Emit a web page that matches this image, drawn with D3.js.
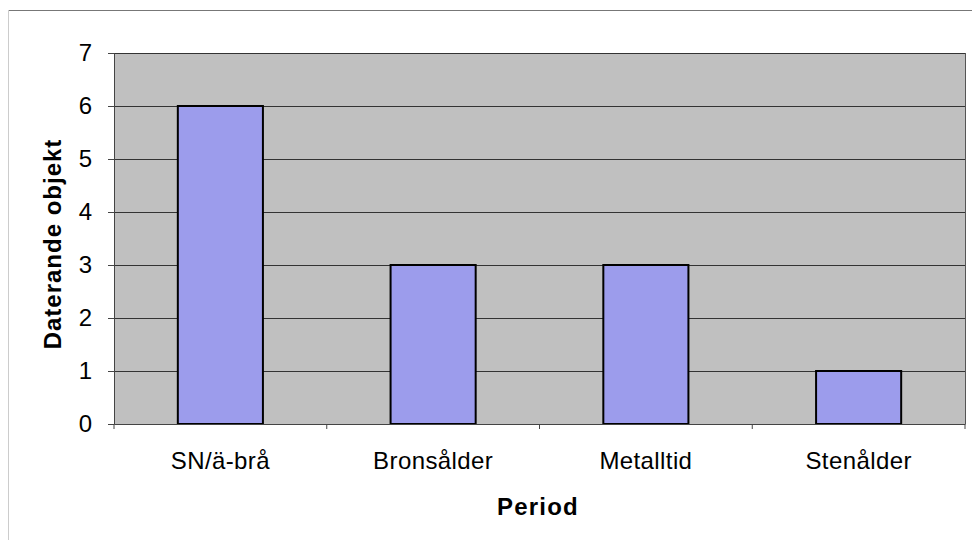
<!DOCTYPE html>
<html><head><meta charset="utf-8">
<script src="https://cdn.jsdelivr.net/npm/d3@7"></script>
<style>body{margin:0;background:#fff}svg{display:block}text{font-family:"Liberation Sans",Arial,sans-serif}</style>
</head><body>
<svg id="c" width="975" height="549"></svg>
<script>
const categories = ["SN/ä-brå", "Bronsålder", "Metalltid", "Stenålder"];
const values = [6, 3, 3, 1];
const yTicks = [0, 1, 2, 3, 4, 5, 6, 7];
const yTitle = "Daterande objekt";
const xTitle = "Period";

const svg = d3.select("#c");
const m = {left: 114, right: 965, top: 53, bottom: 424};

// outer frame (partial, as in scan)
svg.append("line").attr("x1", 8).attr("x2", 972).attr("y1", 10.5).attr("y2", 10.5).attr("stroke", "#777").attr("stroke-width", 1);
svg.append("line").attr("x1", 8.5).attr("x2", 8.5).attr("y1", 10).attr("y2", 540).attr("stroke", "#ccc").attr("stroke-width", 1);

const x = d3.scaleBand().domain(categories).range([m.left, m.right]).paddingInner(0.6).paddingOuter(0.3);
const xb = d3.scaleBand().domain(categories).range([m.left, m.right]);
const y = d3.scaleLinear().domain([0, 7]).range([m.bottom, m.top]);

svg.append("rect").attr("x", m.left).attr("y", m.top).attr("width", m.right - m.left).attr("height", m.bottom - m.top).attr("fill", "#c0c0c0");

// gridlines
svg.append("g").selectAll("line").data(yTicks.filter(d => d > 0)).join("line")
  .attr("x1", m.left).attr("x2", m.right)
  .attr("y1", d => Math.round(y(d)) + 0.5).attr("y2", d => Math.round(y(d)) + 0.5)
  .attr("stroke", "#333").attr("stroke-width", 1);

// right border
svg.append("line").attr("x1", m.right + 0.5).attr("x2", m.right + 0.5).attr("y1", m.top).attr("y2", m.bottom).attr("stroke", "#555");

// bars
svg.append("g").selectAll("rect").data(values).join("rect")
  .attr("x", (d, i) => x(categories[i]))
  .attr("y", d => y(d))
  .attr("width", x.bandwidth())
  .attr("height", d => y(0) - y(d))
  .attr("fill", "#9c9cec").attr("stroke", "#000").attr("stroke-width", 2);

// y axis
const ya = svg.append("g").attr("transform", `translate(${m.left},0)`)
  .call(d3.axisLeft(y).tickValues(yTicks).tickSize(6).tickPadding(16).tickFormat(d3.format("d")));
ya.attr("font-size", null).attr("font-family", null);
ya.select(".domain").attr("stroke", "#444");
ya.selectAll(".tick line").attr("stroke", "#444");
ya.selectAll("text").style("font-size", "24px").attr("fill", "#000");

// x axis
const xa = svg.append("g").attr("transform", `translate(0,${m.bottom})`)
  .call(d3.axisBottom(xb).tickSize(0).tickPadding(28));
xa.attr("font-size", null).attr("font-family", null);
xa.select(".domain").attr("stroke", "#444");
xa.selectAll("text").style("font-size", "24px").style("letter-spacing", "0.4px").attr("fill", "#000");
// tick marks at band boundaries
svg.append("g").selectAll("line").data(d3.range(categories.length + 1)).join("line")
  .attr("x1", i => m.left + i * xb.step()).attr("x2", i => m.left + i * xb.step())
  .attr("y1", m.bottom).attr("y2", m.bottom + 5).attr("stroke", "#444");

// titles
svg.append("text").attr("transform", `translate(61,244) rotate(-90)`)
  .attr("text-anchor", "middle").style("font-size", "24px").style("letter-spacing", "1px").attr("font-weight", "bold").text(yTitle);
svg.append("text").attr("x", 538).attr("y", 515)
  .attr("text-anchor", "middle").style("font-size", "24px").style("letter-spacing", "1.2px").attr("font-weight", "bold").text(xTitle);
</script>
</body></html>
